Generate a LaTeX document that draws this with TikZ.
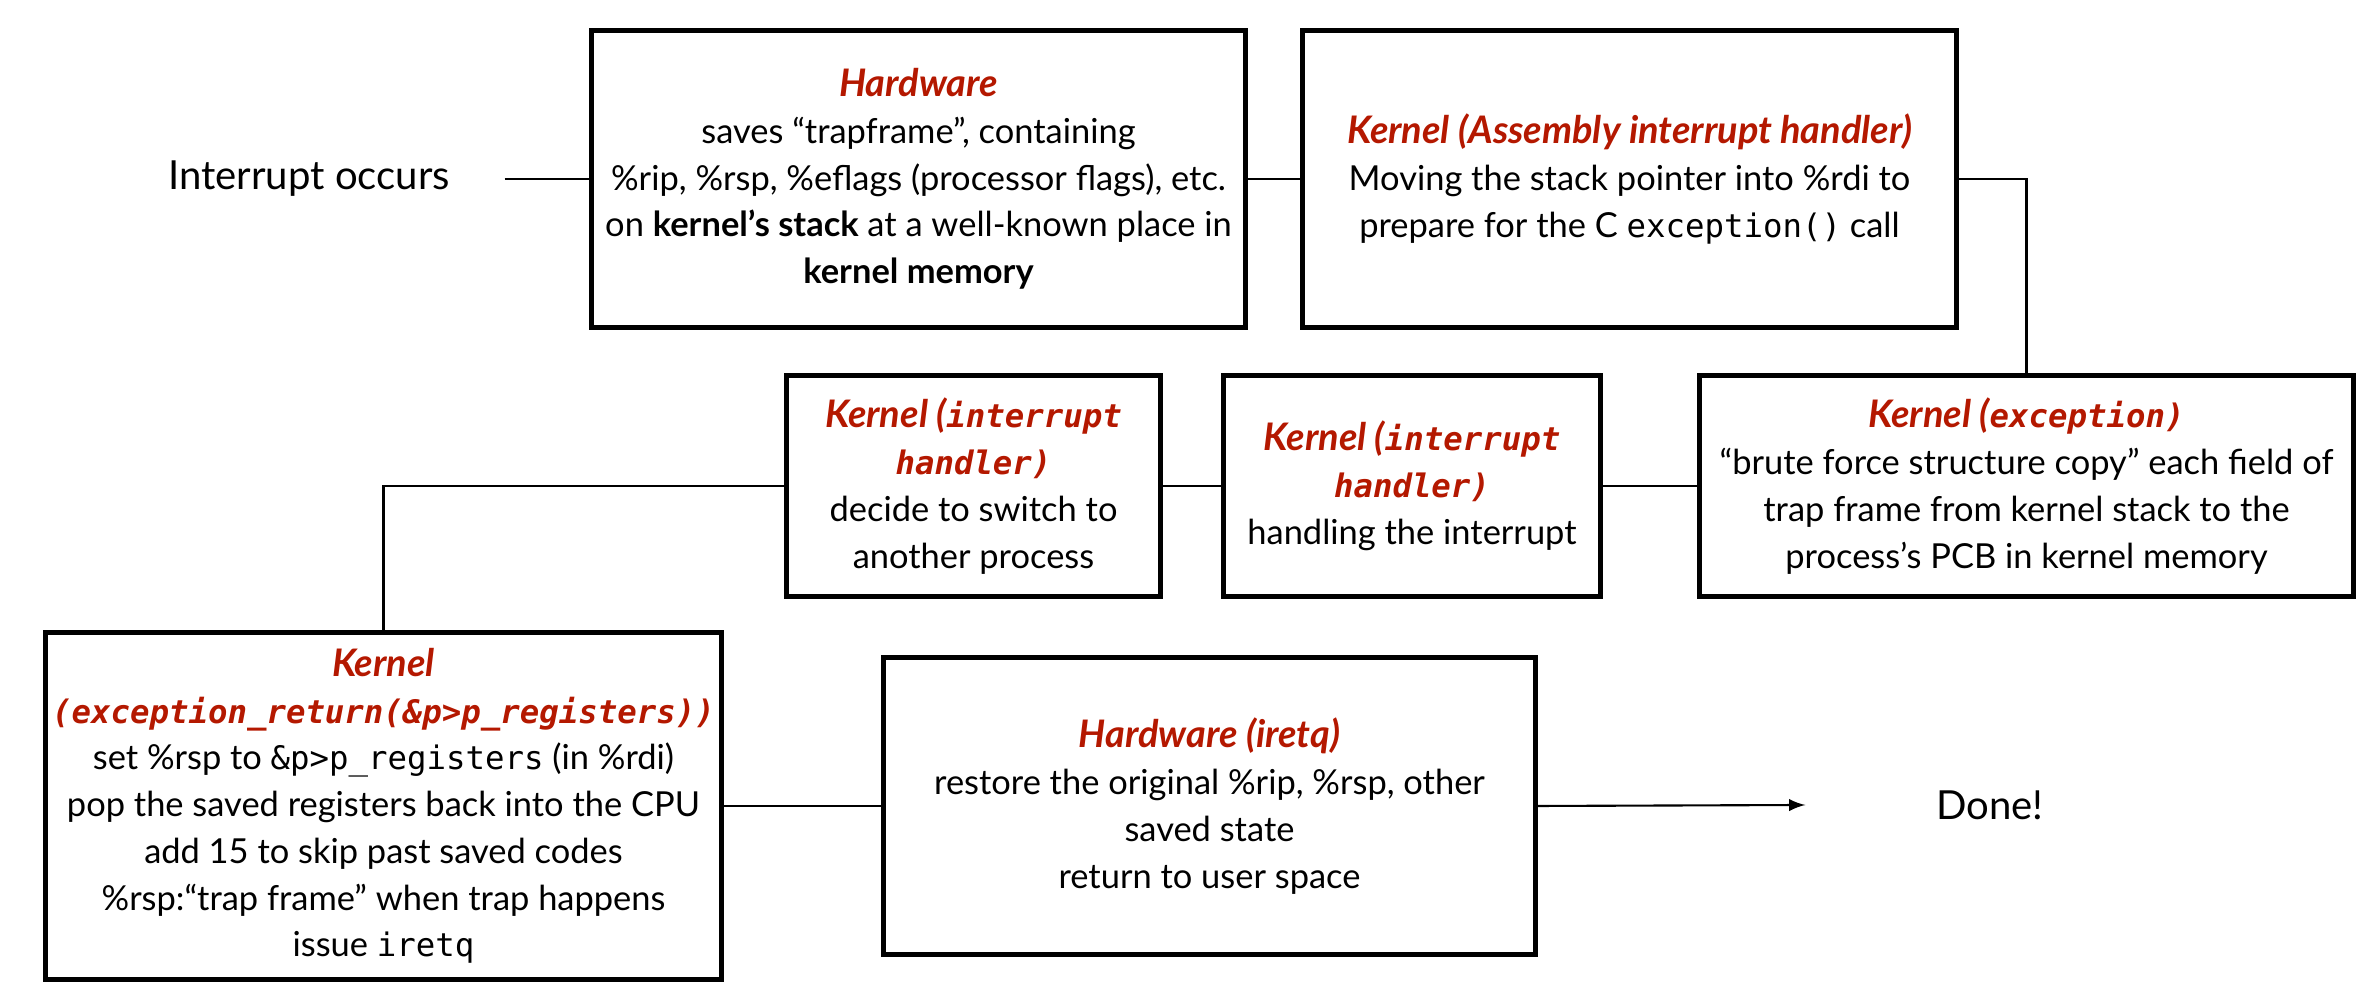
\documentclass[tikz,border=0pt]{standalone}
\usepackage{fontspec}
\setmainfont{Lato}
\setmonofont{DejaVu Sans Mono}[Scale=0.94]
\usetikzlibrary{arrows}
\definecolor{kred}{RGB}{180,24,0}
\def\hdr{\color{kred}\bfseries\itshape\fontsize{10.8}{13.3}\selectfont}
\def\hmono#1{{\color{kred}\bfseries\itshape\fontsize{9.8}{13.3}\selectfont\texttt{#1}}}

\begin{document}
\begin{tikzpicture}[
	stage/.style={draw,line width=1.5pt,align=center,inner sep=1pt,font=\fontsize{9.8}{13.3}\selectfont},
	wire/.style={line width=0.6pt},
	endtext/.style={inner sep=0pt,font=\fontsize{11.4}{13}\selectfont}]
		\useasboundingbox (0,0) rectangle (23.67,9.91);
		% top row
		\node[endtext,minimum width=3.9cm] (start) at (3.09,8.12) {Interrupt occurs};
		\node[stage,minimum width=6.54cm,minimum height=2.97cm] (hw) at (9.185,8.12) {{\hdr Hardware}\\
			saves “trapframe”, containing\\
			\%rip, \%rsp, \%eflags (processor flags), etc.\\
			on \textbf{kernel’s stack} at a well-known place in\\
			\textbf{kernel memory}};
		\node[stage,minimum width=6.54cm,minimum height=2.97cm] (asm) at (16.295,8.12) {{\hdr Kernel (Assembly interrupt handler)}\\
			Moving the stack pointer into \%rdi to\\
			prepare for the C \texttt{exception()} call};
		% middle row
		\node[stage,minimum width=6.54cm,minimum height=2.21cm] (exc) at (20.265,5.05) {{\hdr Kernel (}\hmono{exception)}\\
			“brute force structure copy” each field of\\
			trap frame from kernel stack to the\\
			process’s PCB in kernel memory};
		\node[stage,minimum width=3.77cm,minimum height=2.21cm] (hnd) at (14.12,5.05) {{\hdr Kernel (}\hmono{interrupt}\\
			\hmono{handler)}\\
			handling the interrupt};
		\node[stage,minimum width=3.74cm,minimum height=2.21cm] (dec) at (9.735,5.05) {{\hdr Kernel (}\hmono{interrupt}\\
			\hmono{handler)}\\
			decide to switch to\\
			another process};
		% bottom row
		\node[stage,minimum width=6.76cm,minimum height=3.47cm] (ret) at (3.835,1.85) {{\hdr Kernel}\\
			\hmono{(exception\_return(\&p>p\_registers))}\\
			set \%rsp to \texttt{\&p>p\_registers} (in \%rdi)\\
			pop the saved registers back into the CPU\\
			add 15 to skip past saved codes\\
			\%rsp:“trap frame” when trap happens\\
			issue \texttt{iretq}};
		\node[stage,minimum width=6.52cm,minimum height=2.97cm] (irq) at (12.095,1.85) {{\hdr Hardware (iretq)}\\
			restore the original \%rip, \%rsp, other\\
			saved state\\
			return to user space};
		\node[endtext,minimum width=3.68cm] (done) at (19.9,1.86) {Done!};
		% connectors
		\draw[wire] (start.east) -- (hw.west);
		\draw[wire] (hw.east) -- (asm.west);
		\draw[wire] (asm.east) -| (exc.north);
		\draw[wire] (exc.west) -- (hnd.east);
		\draw[wire] (hnd.west) -- (dec.east);
		\draw[wire] (dec.west) -| (ret.north);
		\draw[wire] (ret.east) -- (irq.west);
		\draw[wire,-latex] (irq.east) -- (done.west);
\end{tikzpicture}
\end{document}
